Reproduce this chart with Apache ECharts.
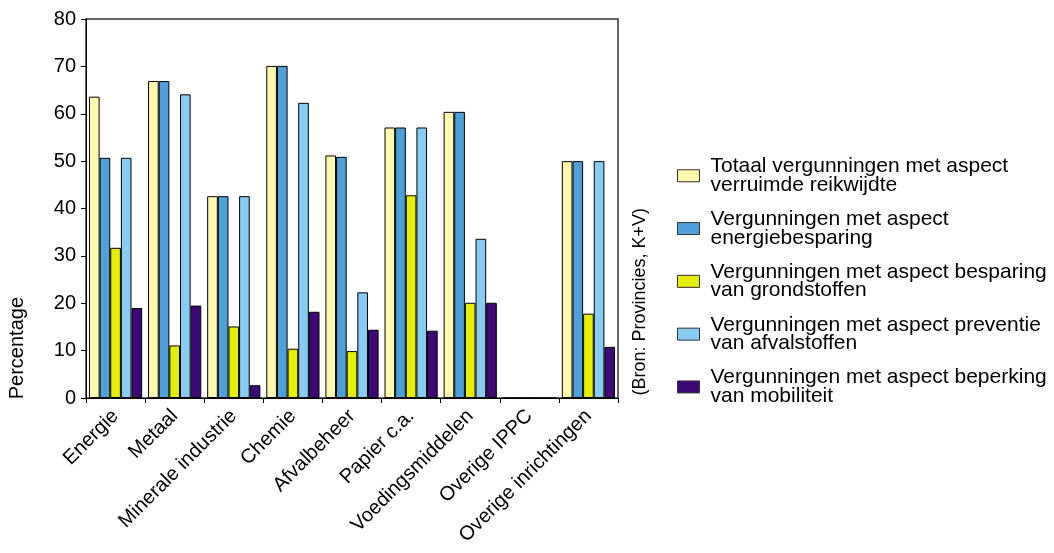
<!DOCTYPE html>
<html>
<head>
<meta charset="utf-8">
<script src="https://cdn.jsdelivr.net/npm/echarts@6/dist/echarts.min.js"></script>
<style>
html,body{margin:0;padding:0;background:#fff;}
#chart{width:1054px;height:553px;}
</style>
</head>
<body>
<div id="chart"></div>
<script>
const categories = ['Energie','Metaal','Minerale industrie','Chemie','Afvalbeheer','Papier c.a.','Voedingsmiddelen','Overige IPPC','Overige inrichtingen'];
const seriesNames = [
  'Totaal vergunningen met aspect\nverruimde reikwijdte',
  'Vergunningen met aspect\nenergiebesparing',
  'Vergunningen met aspect besparing\nvan grondstoffen',
  'Vergunningen met aspect preventie\nvan afvalstoffen',
  'Vergunningen met aspect beperking\nvan mobiliteit'
];
const totaal      = [63.6, 66.9, 42.6, 70.1, 51.2, 57.1, 60.4, 0, 50.0];
const energie     = [50.7, 66.9, 42.6, 70.1, 50.9, 57.1, 60.4, 0, 50.0];
const grondstof   = [31.7, 11.1, 15.1, 10.4, 9.9, 42.8, 20.1, 0, 17.8];
const afval       = [50.7, 64.1, 42.6, 62.3, 22.3, 57.1, 33.6, 0, 50.0];
const mobiliteit  = [19.0, 19.5, 2.7, 18.2, 14.4, 14.2, 20.1, 0, 10.8];
const yTicks = { min: 0, max: 80, interval: 10 };

const colors = ['#FFF9B0', '#4FA0D8', '#E6EE00', '#88CCF4', '#3D0A75'];
const allData = [totaal, energie, grondstof, afval, mobiliteit];

const chart = echarts.init(document.getElementById('chart'), null, {renderer: 'canvas'});
const font = '"Liberation Sans", Arial, sans-serif';
chart.setOption({
  animation: false,
  textStyle: { fontFamily: font },
  grid: { left: 86, right: 436, top: 19, bottom: 155, show: true, borderColor: '#333', borderWidth: 1.5, backgroundColor: 'transparent' },
  legend: {
    orient: 'vertical',
    left: 672,
    top: 151,
    icon: 'rect',
    itemWidth: 22,
    itemHeight: 12,
    itemGap: 13.3,
    itemStyle: { borderColor: '#333', borderWidth: 1 },
    textStyle: { fontSize: 21, color: '#000', fontFamily: font, lineHeight: 18.5, padding: [0, 0, 0, 6] },
    data: seriesNames
  },
  xAxis: {
    type: 'category',
    data: categories,
    axisLine: { lineStyle: { color: '#000', width: 1 } },
    axisTick: { show: true, length: 5, lineStyle: { color: '#000' } },
    axisLabel: { rotate: 45, fontSize: 20, color: '#000', margin: 15, fontFamily: font, interval: 0 }
  },
  yAxis: {
    type: 'value',
    min: yTicks.min, max: yTicks.max, interval: yTicks.interval,
    splitLine: { show: false },
    axisLine: { show: true, lineStyle: { color: '#000', width: 1 } },
    axisTick: { show: true, length: 5, lineStyle: { color: '#000' } },
    axisLabel: { fontSize: 20, color: '#000', margin: 10, fontFamily: font }
  },
  graphic: [
    { type: 'text', left: 7, top: 297, rotation: Math.PI / 2,
      style: { text: 'Percentage', fontSize: 20, fill: '#000', fontFamily: font } },
    { type: 'text', left: 631, top: 208, rotation: Math.PI / 2,
      style: { text: '(Bron: Provincies, K+V)', fontSize: 18, fill: '#000', fontFamily: font } }
  ],
  series: allData.map((d, i) => ({
    name: seriesNames[i],
    type: 'bar',
    data: d,
    barGap: '0%',
    barCategoryGap: '10%',
    itemStyle: { color: colors[i], borderColor: '#000', borderWidth: 1 }
  }))
});
</script>
</body>
</html>
